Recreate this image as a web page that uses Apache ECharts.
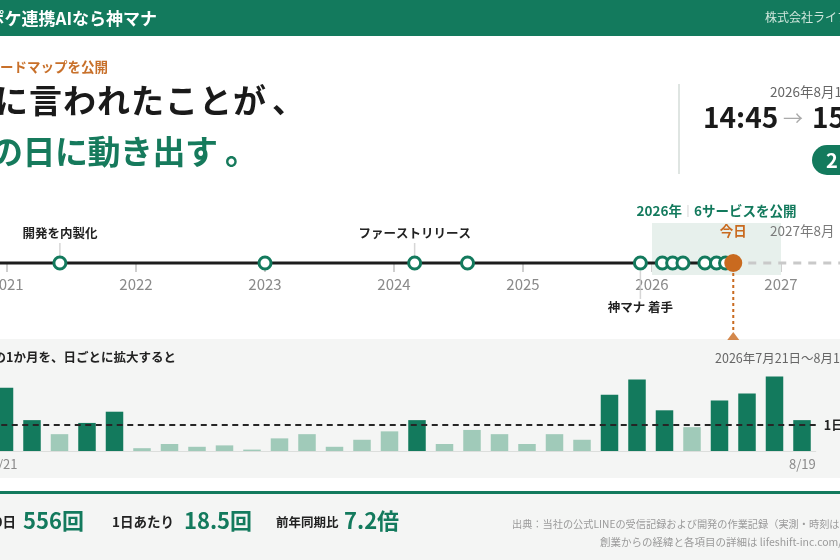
<!DOCTYPE html>
<html lang="ja">
<head>
<meta charset="UTF-8">
<title>ロードマップを公開</title>
<script src="https://cdn.jsdelivr.net/npm/echarts@6.0.0/dist/echarts.min.js"></script>
<style>
  html, body { margin: 0; padding: 0; background: #fff; }
  #main { width: 840px; height: 560px; }
</style>
</head>
<body>
<div id="main"></div>
<script>
var FONT = "'Noto Sans CJK JP', 'Noto Sans', sans-serif";
var GREEN = '#137a5d';
var LIGHT = '#a0cab9';
var ORANGE = '#c96a1f';

// timeline, decimal years
var axisYears = [2021, 2022, 2023, 2024, 2025, 2026, 2027];
var milestoneDates = [2021.41, 2023.0, 2024.16, 2024.57, 2025.91];
var milestoneNames = ['開発を内製化', '', 'ファーストリリース', '', '神マナ 着手'];
var milestoneSide = ['top', '', 'top', '', 'bottom'];
var serviceDates = [2026.08, 2026.16, 2026.24, 2026.41, 2026.50, 2026.57];
var serviceSpan = [2026, 2027];
var today = 2026.63;

// daily counts, 7/21 - 8/19
var days = ['7/21', '7/22', '7/23', '7/24', '7/25', '7/26', '7/27', '7/28', '7/29', '7/30',
            '7/31', '8/1', '8/2', '8/3', '8/4', '8/5', '8/6', '8/7', '8/8', '8/9',
            '8/10', '8/11', '8/12', '8/13', '8/14', '8/15', '8/16', '8/17', '8/18', '8/19'];
var counts = [45, 22, 12, 20, 28, 2, 5, 3, 4, 1,
              9, 12, 3, 8, 14, 22, 5, 15, 12, 5,
              12, 8, 40, 51, 29, 17, 36, 41, 53, 22];

var total = counts.reduce(function (a, b) { return a + b; }, 0);
var avg = total / counts.length;

// visible window of the timeline
var tMin = 2021 - 7 / 129;
var tMax = 2021 + 833 / 129;

function txt(x, y, text, size, color, weight, align) {
    return {
        type: 'text', x: x, y: y, z: 10, silent: true,
        style: {
            text: text, fill: color, fontSize: size, fontWeight: weight || 'normal',
            fontFamily: FONT, align: align || 'left', verticalAlign: 'middle'
        }
    };
}

// headline set one glyph at a time (the original is slightly tracked)
function charRow(x0, y, str, advance, size, color) {
    return str.split('').map(function (ch, i) {
        return txt(x0 + i * advance, y, ch, size, color, 'bold');
    });
}

var milestoneData = milestoneDates.map(function (d, i) {
    var item = { value: [d, 0] };
    if (milestoneNames[i]) {
        item.label = {
            show: true, formatter: milestoneNames[i], position: milestoneSide[i],
            distance: milestoneSide[i] === 'top' ? 16 : 30,
            fontSize: 12.5, fontWeight: 'bold', color: '#222', fontFamily: FONT
        };
    }
    return item;
});

var connectorData = [];
milestoneDates.forEach(function (d, i) {
    if (!milestoneNames[i]) return;
    var top = milestoneSide[i] === 'top';
    connectorData.push({ value: [d, top ? 0.26 : -0.44], symbolSize: [1.5, top ? 14 : 28] });
});

var barData = counts.map(function (v) {
    return { value: v, itemStyle: { color: v >= avg ? GREEN : LIGHT } };
});

var noBounds = { containLabel: false, outerBoundsMode: 'none' };
function grid(o) { return Object.assign({}, noBounds, o); }

var option = {
    animation: false,
    backgroundColor: '#fff',
    textStyle: { fontFamily: FONT },
    grid: [
        grid({ left: 0, right: 0, top: 213, height: 125 }),
        grid({ left: -9.25, width: 825, top: 366.8, height: 84.2 }),
        grid({ left: 0, right: 0, top: 253, height: 10 })
    ],
    xAxis: [
        { gridIndex: 0, type: 'value', min: tMin, max: tMax, show: false },
        {
            gridIndex: 1, type: 'category', data: days, position: 'bottom',
            axisLine: { show: true, lineStyle: { color: '#dcdedc', width: 1 } },
            axisTick: { show: false },
            axisLabel: { show: false }
        },
        {
            gridIndex: 1, type: 'value', min: 0, max: 30, interval: 30, position: 'bottom',
            axisLine: { show: false }, axisTick: { show: false }, splitLine: { show: false },
            axisLabel: {
                color: '#8a8a8a', fontSize: 13, margin: 7, fontFamily: FONT,
                alignMinLabel: 'left', alignMaxLabel: 'right',
                formatter: function (v) { return v === 0 ? days[0] : days[days.length - 1]; }
            }
        },
        {
            gridIndex: 2, type: 'value', min: tMin, max: tMax, position: 'bottom',
            axisLine: { show: false },
            splitLine: { show: false },
            axisTick: { show: true, length: 9, customValues: axisYears, lineStyle: { color: '#cfcfcf', width: 2 } },
            axisLabel: {
                customValues: axisYears, margin: 14, color: '#8a8a8a', fontSize: 15,
                fontFamily: FONT, formatter: function (v) { return String(Math.round(v)); }
            }
        }
    ],
    yAxis: [
        { gridIndex: 0, type: 'value', min: -1.5, max: 1, show: false },
        { gridIndex: 1, type: 'value', min: 0, max: 60, show: false },
        { gridIndex: 2, type: 'value', min: 0, max: 1, show: false }
    ],
    series: [
        {
            type: 'line', xAxisIndex: 0, yAxisIndex: 0, silent: true, symbol: 'none',
            data: [[tMin, 0], [today, 0]],
            lineStyle: { color: '#1c1c1c', width: 3 }, z: 3
        },
        {
            type: 'line', xAxisIndex: 0, yAxisIndex: 0, silent: true, symbol: 'none',
            data: [[today, 0], [tMax, 0]],
            lineStyle: { color: '#c9c9c9', width: 3, type: [8, 7] }, z: 3,
            markArea: {
                silent: true,
                itemStyle: { color: '#e7f0ec' },
                label: {
                    show: true, position: 'top', distance: 5,
                    formatter: '{a|2026年}{s|｜}{a|6サービスを公開}',
                    rich: {
                        a: { fontSize: 13.5, fontWeight: 'bold', color: GREEN, fontFamily: FONT },
                        s: { fontSize: 12, color: '#b5b5b5', fontFamily: FONT }
                    }
                },
                data: [[{ xAxis: serviceSpan[0], yAxis: 0.8 }, { xAxis: serviceSpan[1], yAxis: -0.24 }]]
            }
        },
        {
            type: 'scatter', xAxisIndex: 0, yAxisIndex: 0, silent: true, symbol: 'rect',
            data: connectorData, itemStyle: { color: '#cccccc' }, z: 2
        },
        {
            type: 'line', xAxisIndex: 0, yAxisIndex: 0, silent: true, symbol: 'none',
            data: [[today, -0.2], [today, -1.36]],
            lineStyle: { color: ORANGE, width: 2, type: [3, 3] }, z: 3
        },
        {
            type: 'scatter', xAxisIndex: 0, yAxisIndex: 0, silent: true, symbol: 'triangle',
            symbolSize: [12, 8], data: [[today, -1.46]], itemStyle: { color: ORANGE }, z: 4
        },
        {
            type: 'scatter', xAxisIndex: 0, yAxisIndex: 0, silent: true, symbol: 'circle',
            symbolSize: 12, data: milestoneData,
            itemStyle: { color: '#fff', borderColor: GREEN, borderWidth: 3, opacity: 1 }, z: 5
        },
        {
            type: 'scatter', xAxisIndex: 0, yAxisIndex: 0, silent: true, symbol: 'circle',
            symbolSize: 12, data: serviceDates.map(function (d) { return [d, 0]; }),
            itemStyle: { color: '#fff', borderColor: GREEN, borderWidth: 3, opacity: 1 }, z: 5
        },
        {
            type: 'scatter', xAxisIndex: 0, yAxisIndex: 0, silent: true, symbol: 'circle',
            symbolSize: 18, data: [[today, 0]],
            itemStyle: { color: ORANGE, opacity: 1 }, z: 6,
            label: {
                show: true, position: 'top', distance: 16.5, formatter: '今日',
                fontSize: 13.5, fontWeight: 'bold', color: ORANGE, fontFamily: FONT
            }
        },
        {
            type: 'bar', xAxisIndex: 1, yAxisIndex: 1, silent: true, barWidth: 17.5,
            data: barData,
            markLine: {
                silent: true, symbol: ['none', 'none'],
                lineStyle: { color: '#262626', width: 2, type: [6, 4.5] },
                label: {
                    show: true, position: 'end', distance: 8, formatter: '1日平均',
                    fontSize: 12.5, fontWeight: 'bold', color: '#222', fontFamily: FONT
                },
                data: [{ yAxis: avg }]
            }
        }
    ],
    graphic: [].concat(
        [
            // header band
            { type: 'rect', z: -1, silent: true, shape: { x: 0, y: 0, width: 840, height: 36 }, style: { fill: GREEN } },
            txt(157, 19, 'ポケ連携AIなら神マナ', 17, '#ffffff', 'bold', 'right'),
            txt(765, 17, '株式会社ライフシフト', 12, '#cfe6dc'),
            // headline
            txt(108, 67, 'ロードマップを公開', 13.5, '#c8702a', 'bold', 'right')
        ],
        charRow(-5, 100, 'に言われたことが', 34, 33, '#1a1a1a'),
        [txt(272, 100, '、', 33, '#1a1a1a', 'bold')],
        charRow(-10, 151, 'の日に動き出す', 32.5, 33, '#167a5c'),
        [txt(225, 151, '。', 33, '#167a5c', 'bold')],
        [
            // time panel
            { type: 'line', z: 1, silent: true, shape: { x1: 679, y1: 84, x2: 679, y2: 174 }, style: { stroke: '#dfe5e2', lineWidth: 2 } },
            txt(770, 92, '2026年8月19日', 13.5, '#666'),
            txt(703, 117, '14:45', 28, '#1a1a1a', 'bold'),
            txt(783, 118, '→', 20, '#aaaaaa'),
            txt(812, 117, '15', 28, '#1a1a1a', 'bold'),
            { type: 'rect', z: 1, silent: true, shape: { x: 812, y: 145, width: 70, height: 30, r: 15 }, style: { fill: GREEN } },
            txt(826, 160, '2', 20, '#ffffff', 'bold'),
            // timeline side text
            txt(770, 231, '2027年8月', 13.5, '#7a7a7a'),
            // daily panel
            { type: 'rect', z: -1, silent: true, shape: { x: 0, y: 339, width: 840, height: 139 }, style: { fill: '#f4f5f4' } },
            txt(176, 357, 'の1か月を、日ごとに拡大すると', 12.5, '#222', 'bold', 'right'),
            txt(715, 358, '2026年7月21日〜8月19日', 12.5, '#666'),
            // footer
            { type: 'rect', z: -1, silent: true, shape: { x: 0, y: 491, width: 840, height: 3 }, style: { fill: GREEN } },
            { type: 'rect', z: -1, silent: true, shape: { x: 0, y: 494, width: 840, height: 66 }, style: { fill: '#f4f5f4' } },
            txt(16, 522, '30日', 13.5, '#222', 'bold', 'right'),
            txt(23, 521, total + '回', 22, GREEN, 'bold'),
            txt(112, 522, '1日あたり', 13.5, '#222', 'bold'),
            txt(184, 521, avg.toFixed(1) + '回', 22, GREEN, 'bold'),
            txt(276, 522, '前年同期比', 12.5, '#222', 'bold'),
            txt(344, 521, '7.2倍', 22, GREEN, 'bold'),
            txt(512, 524, '出典：当社の公式LINEの受信記録および開発の作業記録（実測・時刻は', 10.2, '#9a9a9a'),
            txt(600, 542, '創業からの経緯と各項目の詳細は lifeshift-inc.com/r', 10.5, '#9a9a9a')
        ]
    )
};

var chart = echarts.init(document.getElementById('main'));
chart.setOption(option);
</script>
</body>
</html>
